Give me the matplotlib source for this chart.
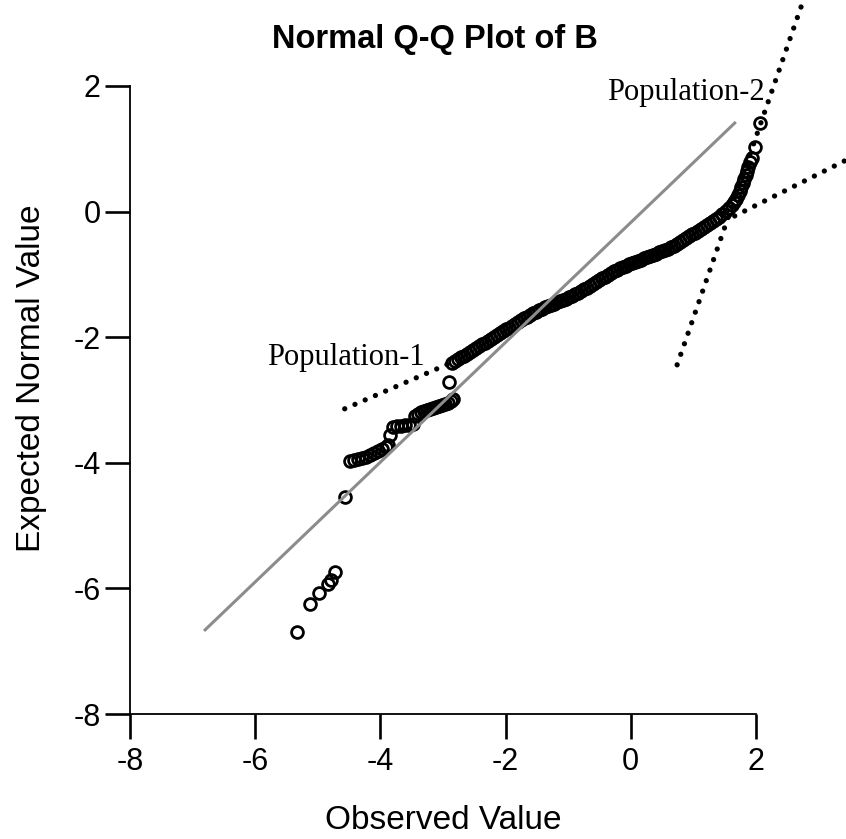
import matplotlib
matplotlib.use("Agg")
import matplotlib.pyplot as plt

plt.rcParams['font.family'] = ['Liberation Sans', 'DejaVu Sans']

# ---- data ----
tail_low_x = [-5.33, -5.12, -4.98, -4.84, -4.79, -4.73, -4.57]
tail_low_y = [-6.69, -6.25, -6.07, -5.93, -5.87, -5.74, -4.54]

pop1_x = [-4.49, -4.42, -4.36, -4.29, -4.23, -4.17, -4.10, -4.04, -3.97, -3.91,
          -3.88, -3.85,
          -3.80, -3.73, -3.67, -3.61, -3.54, -3.48,
          -3.45, -3.40, -3.35, -3.30, -3.26, -3.21, -3.16, -3.11, -3.06, -3.02,
          -2.97, -2.92, -2.87, -2.84, -2.90]
pop1_y = [-3.97, -3.96, -3.94, -3.92, -3.91, -3.88, -3.84, -3.81, -3.78, -3.75,
          -3.72, -3.56,
          -3.43, -3.41, -3.41, -3.40, -3.40, -3.38,
          -3.25, -3.22, -3.19, -3.18, -3.16, -3.14, -3.13, -3.11, -3.10, -3.08,
          -3.06, -3.05, -3.02, -2.98, -2.71]

main_x = [-2.86, -2.81, -2.76, -2.71, -2.66, -2.62, -2.57, -2.52, -2.47, -2.42,
          -2.38, -2.33, -2.28, -2.23, -2.19, -2.14, -2.09, -2.04, -1.99, -1.95,
          -1.90, -1.85, -1.80, -1.75, -1.71, -1.66, -1.61, -1.56, -1.51, -1.47,
          -1.42, -1.37, -1.32, -1.27, -1.23, -1.18, -1.13, -1.08, -1.04, -0.99,
          -0.94, -0.89, -0.84, -0.80, -0.75, -0.70, -0.65, -0.60, -0.56, -0.51,
          -0.46, -0.41, -0.36, -0.32, -0.27, -0.22, -0.17, -0.12, -0.08, -0.03,
          0.02, 0.07, 0.12, 0.16, 0.21, 0.26, 0.31, 0.35, 0.40, 0.45,
          0.50, 0.55, 0.59, 0.64, 0.69, 0.74, 0.79, 0.83, 0.88, 0.93,
          0.98, 1.03, 1.07, 1.12, 1.17, 1.22, 1.27, 1.31, 1.36, 1.41]
main_y = [-2.41, -2.38, -2.35, -2.32, -2.30, -2.27, -2.24, -2.20, -2.17, -2.14,
          -2.11, -2.09, -2.06, -2.03, -2.00, -1.96, -1.93, -1.90, -1.87, -1.85,
          -1.82, -1.79, -1.76, -1.73, -1.69, -1.68, -1.65, -1.61, -1.60, -1.57,
          -1.55, -1.52, -1.50, -1.49, -1.47, -1.44, -1.42, -1.41, -1.39, -1.36,
          -1.34, -1.31, -1.30, -1.26, -1.23, -1.22, -1.18, -1.15, -1.12, -1.09,
          -1.06, -1.04, -1.01, -0.98, -0.95, -0.93, -0.90, -0.88, -0.87, -0.83,
          -0.82, -0.80, -0.79, -0.77, -0.74, -0.72, -0.71, -0.69, -0.68, -0.64,
          -0.63, -0.61, -0.60, -0.56, -0.55, -0.52, -0.48, -0.45, -0.42, -0.39,
          -0.36, -0.34, -0.31, -0.28, -0.25, -0.21, -0.18, -0.15, -0.12, -0.09]

tail_high_x = [1.46, 1.52, 1.57, 1.62, 1.65, 1.68, 1.71, 1.74, 1.76, 1.79,
               1.81, 1.84, 1.86, 1.87, 1.90, 1.94, 1.98, 2.06]
tail_high_y = [-0.04, 0.01, 0.06, 0.11, 0.15, 0.20, 0.26, 0.33, 0.39, 0.46,
               0.52, 0.58, 0.65, 0.71, 0.79, 0.85, 1.03, 1.41]

ref_line_x = [-6.80, 1.66]
ref_line_y = [-6.66, 1.41]

pop1_fit_x = [-4.57, -2.81]
pop1_fit_y = [-3.14, -2.38]
pop2_steep_x = [0.74, 2.73]
pop2_steep_y = [-2.44, 3.29]
pop2_shallow_x = [1.66, 3.44]
pop2_shallow_y = [-0.07, 0.82]

ticks = [-8, -6, -4, -2, 0, 2]
tick_labels = ['-8', '-6', '-4', '-2', '0', '2']

# ---- figure ----
fig = plt.figure(figsize=(8.46, 8.39), dpi=100)
ax = fig.add_axes([130 / 846, 1 - 714 / 839, 626 / 846, 628 / 839])
ax.set_xlim(-8, 2)
ax.set_ylim(-8, 2)

for s in ('top', 'right'):
    ax.spines[s].set_visible(False)
for s in ('left', 'bottom'):
    ax.spines[s].set_linewidth(1.3)

ax.set_xticks(ticks)
ax.set_xticklabels(tick_labels)
ax.set_yticks(ticks)
ax.set_yticklabels(tick_labels)
ax.tick_params(axis='both', direction='out', length=18, width=1.9,
               labelsize=22)
ax.tick_params(axis='x', pad=6)
ax.tick_params(axis='y', pad=3)

# reference line
ax.plot(ref_line_x, ref_line_y, color='0.55', lw=2.2, zorder=3, clip_on=False)

# dotted fit lines
dot = dict(color='black', lw=3.8, linestyle=(0, (0.01, 2.1)),
           dash_capstyle='round', clip_on=False, zorder=2)
ax.plot(pop1_fit_x, pop1_fit_y, **dot)
ax.plot(pop2_steep_x, pop2_steep_y, **dot)
ax.plot(pop2_shallow_x, pop2_shallow_y, **dot)

# data points
mk = dict(linestyle='none', marker='o', mfc='none', mec='black', ms=8.5,
          mew=2.0, clip_on=False, zorder=2)
for xs, ys in ((tail_low_x, tail_low_y), (pop1_x, pop1_y),
               (main_x, main_y), (tail_high_x, tail_high_y)):
    ax.plot(xs, ys, **mk)

# annotations
ax.text(-5.81, -2.44, 'Population-1', family='Liberation Serif', fontsize=22,
        ha='left', va='baseline')
ax.text(-0.38, 1.78, 'Population-2', family='Liberation Serif', fontsize=22,
        ha='left', va='baseline')

ax.set_xlabel('Observed Value', fontsize=24, labelpad=20)
ax.set_ylabel('Expected Normal Value', fontsize=24)
ax.yaxis.set_label_coords(-0.132, 0.535)

fig.text(435 / 846, 1 - 48 / 839, 'Normal Q-Q Plot of B', fontsize=23.5,
         fontweight='bold', ha='center', va='baseline')

fig.savefig('out.png', dpi=100)
